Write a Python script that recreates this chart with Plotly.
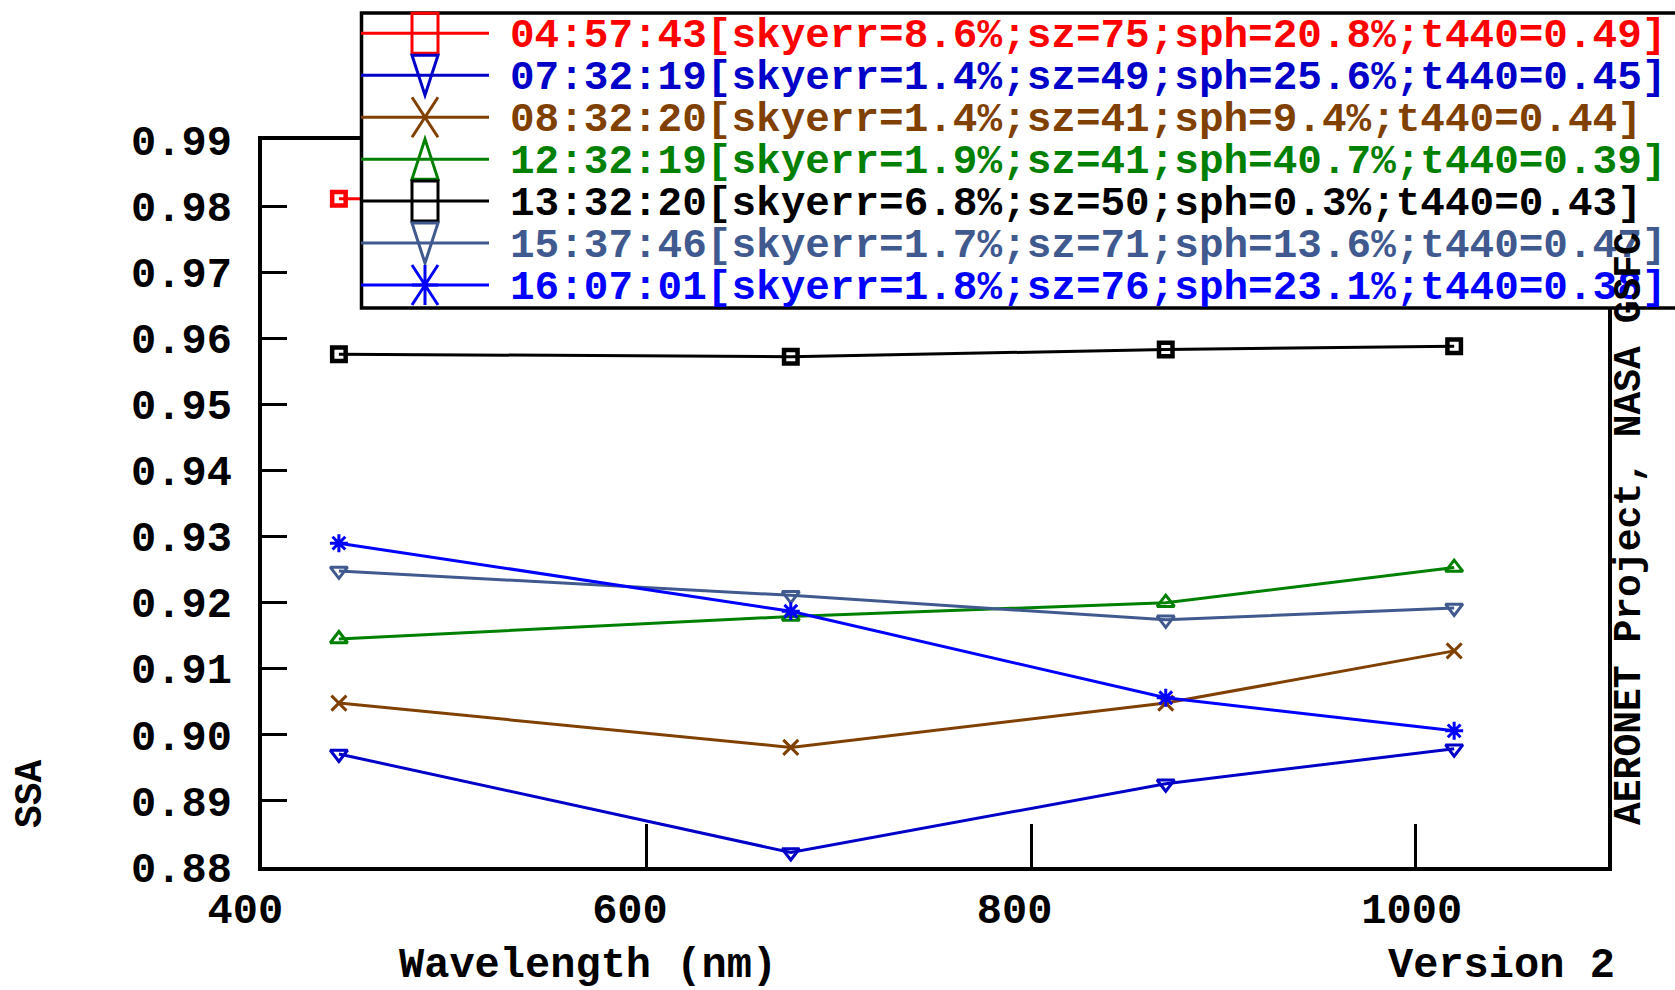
import plotly.graph_objects as go

# Wavelengths (nm) and single-scattering albedo retrievals per observation
wavelengths = [440, 675, 870, 1020]

ssa_0457 = [0.9811, 0.9810, 0.9818, 0.9825]
ssa_0732 = [0.8971, 0.8822, 0.8926, 0.8979]
ssa_0832 = [0.9048, 0.8981, 0.9048, 0.9127]
ssa_1232 = [0.9145, 0.9179, 0.9200, 0.9253]
ssa_1332 = [0.9576, 0.9572, 0.9583, 0.9588]
ssa_1537 = [0.9248, 0.9211, 0.9174, 0.9192]
ssa_1607 = [0.9290, 0.9187, 0.9056, 0.9006]

labels = [
    "04:57:43[skyerr=8.6%;sz=75;sph=20.8%;t440=0.49]",
    "07:32:19[skyerr=1.4%;sz=49;sph=25.6%;t440=0.45]",
    "08:32:20[skyerr=1.4%;sz=41;sph=9.4%;t440=0.44]",
    "12:32:19[skyerr=1.9%;sz=41;sph=40.7%;t440=0.39]",
    "13:32:20[skyerr=6.8%;sz=50;sph=0.3%;t440=0.43]",
    "15:37:46[skyerr=1.7%;sz=71;sph=13.6%;t440=0.47]",
    "16:07:01[skyerr=1.8%;sz=76;sph=23.1%;t440=0.38]",
]
series = [ssa_0457, ssa_0732, ssa_0832, ssa_1232, ssa_1332, ssa_1537, ssa_1607]

x_ticks = [400, 600, 800, 1000]
x_tick_labels = ["400\u00a0", "600\u00a0", "800\u00a0", "1000"]
y_ticks = [0.88, 0.89, 0.90, 0.91, 0.92, 0.93, 0.94, 0.95, 0.96, 0.97, 0.98, 0.99]

colors = ["#ff0000", "#0000c8", "#804000", "#008000", "#000000", "#405a90", "#0000ff"]
symbols = ["square-open", "triangle-down-open", "x-thin-open", "triangle-up-open",
           "square-open", "triangle-down-open", "asterisk-open"]
legend_glyphs = ["square", "tri_down", "cross", "tri_up", "square", "tri_down", "star"]

W, H = 1675, 990
L, R, T, B = 262, 1608, 140, 867
FONT = "Liberation Mono"


def px(xp):
    return (xp - L) / (R - L)


def py(yp):
    return (B - yp) / (B - T)


def pt(xp, yp):
    return f"{px(xp):.5f},{py(yp):.5f}"


fig = go.Figure()

for vals, col, sym, lab in zip(series, colors, symbols, labels):
    if sym == "square-open":
        msize, mlw = 13.5, 4.5
    else:
        msize, mlw = 15, 3
    fig.add_trace(go.Scatter(
        x=wavelengths, y=vals, mode="lines+markers", name=lab,
        line=dict(color=col, width=3),
        marker=dict(symbol=sym, size=msize, color=col, line=dict(color=col, width=mlw)),
        showlegend=False,
    ))

shapes = []
# key box (opaque, overlays the data area)
shapes.append(dict(type="rect", xref="paper", yref="paper",
                   x0=px(361.5), x1=px(1700), y0=py(308), y1=py(13),
                   fillcolor="white", line=dict(color="black", width=3.5), layer="above"))

annotations = []
row0, row_step = 33.3, 41.95
mx, hw, hh = 425, 13, 20
for i, (col, glyph, lab) in enumerate(zip(colors, legend_glyphs, labels)):
    cy = row0 + row_step * i
    shapes.append(dict(type="line", xref="paper", yref="paper",
                       x0=px(361), x1=px(489), y0=py(cy), y1=py(cy),
                       line=dict(color=col, width=3), layer="above"))
    if glyph == "square":
        path = f"M{pt(mx-hw, cy-hh)} L{pt(mx+hw, cy-hh)} L{pt(mx+hw, cy+hh)} L{pt(mx-hw, cy+hh)} Z"
    elif glyph == "tri_down":
        path = f"M{pt(mx-hw, cy-hh)} L{pt(mx+hw, cy-hh)} L{pt(mx, cy+hh)} Z"
    elif glyph == "tri_up":
        path = f"M{pt(mx, cy-hh)} L{pt(mx+hw, cy+hh)} L{pt(mx-hw, cy+hh)} Z"
    elif glyph == "cross":
        path = f"M{pt(mx-hw, cy-hh)} L{pt(mx+hw, cy+hh)} M{pt(mx+hw, cy-hh)} L{pt(mx-hw, cy+hh)}"
    else:
        path = (f"M{pt(mx-hw, cy-hh)} L{pt(mx+hw, cy+hh)} M{pt(mx+hw, cy-hh)} L{pt(mx-hw, cy+hh)} "
                f"M{pt(mx, cy-hh)} L{pt(mx, cy+hh)} M{pt(mx-hw, cy)} L{pt(mx+hw, cy)}")
    shapes.append(dict(type="path", xref="paper", yref="paper", path=path,
                       line=dict(color=col, width=3), layer="above"))
    annotations.append(dict(xref="paper", yref="paper", x=px(508), y=py(cy), yshift=-3,
                            xanchor="left", yanchor="middle", showarrow=False, text=lab,
                            font=dict(family=FONT, size=41, color=col, weight="bold")))

annotations.append(dict(xref="paper", yref="paper", x=px(588), y=py(966),
                        xanchor="center", yanchor="middle", showarrow=False,
                        text="Wavelength (nm)",
                        font=dict(family=FONT, size=42, color="black", weight="bold")))
annotations.append(dict(xref="paper", yref="paper", x=px(1386), y=py(966),
                        xanchor="left", yanchor="middle", showarrow=False,
                        text="Version 2",
                        font=dict(family=FONT, size=42, color="black", weight="bold")))
annotations.append(dict(xref="paper", yref="paper", x=px(30), y=py(794),
                        xanchor="center", yanchor="middle", showarrow=False, textangle=-90,
                        text="SSA",
                        font=dict(family=FONT, size=38, color="black", weight="bold")))
annotations.append(dict(xref="paper", yref="paper", x=px(1629), y=py(529),
                        xanchor="center", yanchor="middle", showarrow=False, textangle=-90,
                        text="AERONET Project, NASA GSFC",
                        font=dict(family=FONT, size=38, color="black", weight="bold")))

fig.update_layout(
    width=W, height=H,
    margin=dict(l=L, r=W - R, t=T, b=H - B, pad=0),
    paper_bgcolor="white", plot_bgcolor="white",
    showlegend=False,
    shapes=shapes, annotations=annotations,
    xaxis=dict(range=[400, 1100], tickvals=x_ticks, ticktext=x_tick_labels,
               ticks="inside", ticklen=43, tickwidth=3, tickcolor="black",
               ticklabelstandoff=2, ticklabelshift=-4,
               tickfont=dict(family=FONT, size=42, color="black", weight="bold"),
               showline=True, linecolor="black", linewidth=3.5, mirror=True,
               showgrid=False, zeroline=False),
    yaxis=dict(range=[0.88, 0.99], tickvals=y_ticks, tickformat=".2f",
               ticks="inside", ticklen=25, tickwidth=3, tickcolor="black",
               ticklabelstandoff=18,
               tickfont=dict(family=FONT, size=42, color="black", weight="bold"),
               showline=True, linecolor="black", linewidth=3.5, mirror=True,
               showgrid=False, zeroline=False),
)

fig.write_html("out.html")
